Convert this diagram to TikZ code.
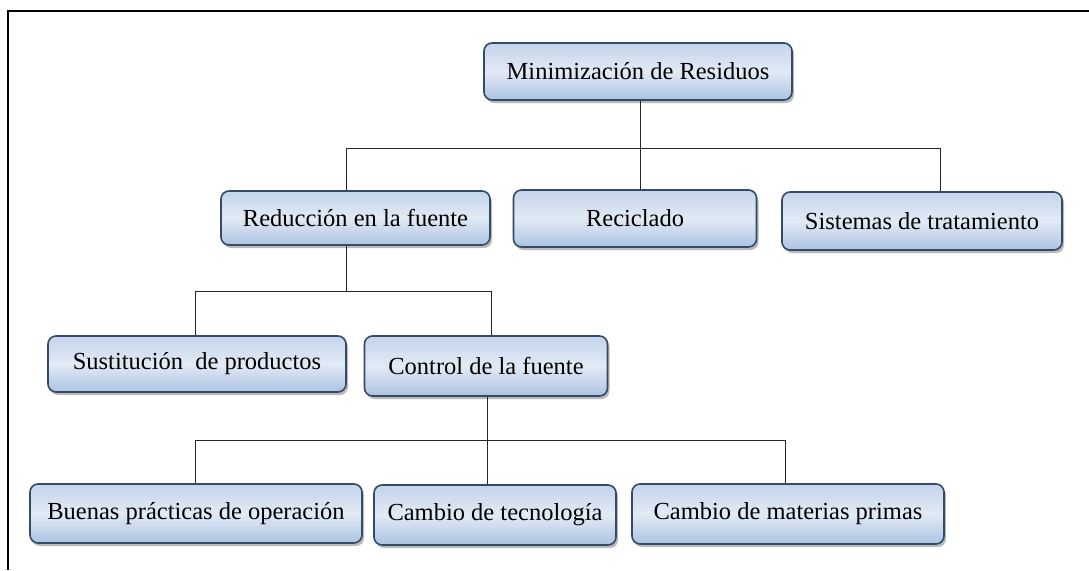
\documentclass[tikz,border=0pt]{standalone}
\usepackage{fontspec}
\setmainfont{Liberation Serif}
\usetikzlibrary{shadows}
\definecolor{bxtop}{RGB}{196,212,235}
\definecolor{bxmid}{RGB}{226,234,245}
\definecolor{bxbot}{RGB}{172,195,226}
\definecolor{bxline}{RGB}{52,74,102}
\tikzset{
  box/.style={draw=bxline, line width=1.6pt, rounded corners=8pt,
    top color=bxtop, bottom color=bxbot, middle color=bxmid,
    inner sep=0pt, align=center, text=black,
    font=\fontsize{24.5}{28}\selectfont,
    drop shadow={shadow xshift=2pt, shadow yshift=-3pt, fill=black!45, opacity=0.6}},
  conn/.style={draw=black!85, line width=1pt}
}
\begin{document}
\begin{tikzpicture}[x=1pt,y=-1pt]
\useasboundingbox (0,0) rectangle (1089,570);
\draw[line width=2pt] (8,570) -- (8,11) -- (1089,11);

\node[box, minimum width=308pt, minimum height=57pt] (min) at (638,71.5) {Minimización de Residuos};
\node[box, minimum width=269pt, minimum height=54pt] (red) at (355.5,218) {Reducción en la fuente};
\node[box, minimum width=243pt, minimum height=57pt] (rec) at (635,218.5) {Reciclado};
\node[box, minimum width=280pt, minimum height=58pt] (sis) at (922,221) {Sistemas de tratamiento};
\node[box, minimum width=298pt, minimum height=56pt] (sus) at (197,364) {Sustitución~ de productos};
\node[box, minimum width=243pt, minimum height=60pt] (ctl) at (486,366) {Control de la fuente};
\node[box, minimum width=332pt, minimum height=59pt] (bue) at (196,513.5) {Buenas prácticas de operación};
\node[box, minimum width=242pt, minimum height=60pt] (tec) at (495,515) {Cambio de tecnología};
\node[box, minimum width=312pt, minimum height=60pt] (mat) at (788,514) {Cambio de materias primas};

\coordinate (b1) at (640,148);
\coordinate (b2) at (346,291);
\coordinate (b3) at (487,440);

% level 1
\draw[conn] ([xshift=2pt]min.south) -- ([xshift=2pt]min.south |- b1);
\draw[conn] ([xshift=-9.5pt]red.north) |- ([xshift=18pt]sis.north |- b1) -- ([xshift=18pt]sis.north);
\draw[conn] ([xshift=5pt]rec.north) -- ([xshift=5pt]rec.north |- b1);
% level 2
\draw[conn] ([xshift=-9.5pt]red.south) -- ([xshift=-9.5pt]red.south |- b2);
\draw[conn] ([xshift=-2pt]sus.north) |- ([xshift=5pt]ctl.north |- b2) -- ([xshift=5pt]ctl.north);
% level 3
\draw[conn] ([xshift=1pt]ctl.south) -- ([xshift=1pt]ctl.south |- b3);
\draw[conn] ([xshift=-1pt]bue.north) |- ([xshift=-3pt]mat.north |- b3) -- ([xshift=-3pt]mat.north);
\draw[conn] ([xshift=-8pt]tec.north) -- ([xshift=-8pt]tec.north |- b3);
\end{tikzpicture}
\end{document}
